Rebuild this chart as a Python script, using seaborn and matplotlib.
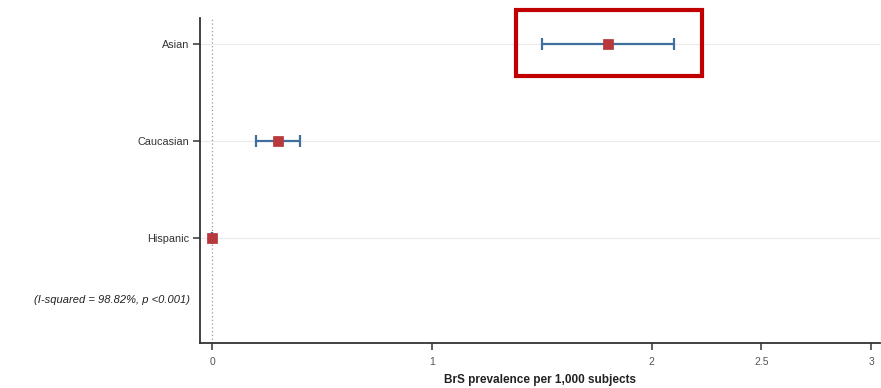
import matplotlib
matplotlib.use("Agg")
import matplotlib.pyplot as plt
import matplotlib.transforms as mtransforms
from matplotlib.patches import Rectangle
import seaborn as sns
import pandas as pd

# Pooled prevalence (per 1,000 subjects) with 95% CI by ethnicity
groups = ["Asian", "Caucasian", "Hispanic"]
prevalence = [1.80, 0.30, 0.00]
ci_low = [1.50, 0.20, 0.00]
ci_high = [2.10, 0.40, 0.00]
xticks = [0, 1, 2, 2.5, 3]
xtick_labels = ["0", "1", "2", "2.5", "3"]
heterogeneity = "(I-squared = 98.82%, p <0.001)"

df = pd.DataFrame({"group": groups, "pos": range(len(groups)),
                   "prev": prevalence, "lo": ci_low, "hi": ci_high})

sns.set_theme(style="white")
plt.rcParams["font.family"] = ["Liberation Sans", "DejaVu Sans"]

fig = plt.figure(figsize=(8.81, 3.88), dpi=100)
ax = fig.add_axes([0.227, 0.116, 0.772, 0.838])

# faint row guides and the null line at zero
for p in df["pos"]:
    ax.axhline(p, color="#ebebeb", lw=0.8, zorder=0)
ax.axvline(0, color="#9a9a9a", lw=0.9, ls=(0, (1, 2)), zorder=1)

# confidence intervals
ax.errorbar(df["prev"], df["pos"],
            xerr=[df["prev"] - df["lo"], df["hi"] - df["prev"]],
            fmt="none", ecolor="#3f6f9c", elinewidth=1.6, capsize=4,
            capthick=1.6, zorder=2)
# point estimates
sns.scatterplot(data=df, x="prev", y="pos", marker="s", s=45,
                color="#b7393d", edgecolor="#b7393d", ax=ax, zorder=3,
                legend=False)

ax.set_xlim(-0.055, 3.04)
ax.set_ylim(3.09, -0.27)
ax.set_yticks(df["pos"])
ax.set_yticklabels(groups, fontsize=7.8, color="#333333")
ax.set_xticks(xticks)
ax.set_xticklabels(xtick_labels, fontsize=7.5, color="#555555")
ax.tick_params(axis="both", which="both", length=5, width=1.1,
               color="#333333", left=True, bottom=True)
ax.tick_params(axis="x", pad=5)
ax.tick_params(axis="y", pad=3)
ax.set_ylabel("")
ax.set_xlabel("BrS prevalence per 1,000 subjects", fontsize=8.5,
              fontweight="bold", color="#222222", labelpad=5)

for side in ["top", "right"]:
    ax.spines[side].set_visible(False)
for side in ["left", "bottom"]:
    ax.spines[side].set_color("#333333")
    ax.spines[side].set_linewidth(1.3)

# heterogeneity statistic to the left of the axis
trans = mtransforms.blended_transform_factory(ax.transAxes, ax.transData)
ax.text(-0.015, 2.65, heterogeneity, transform=trans, ha="right",
        va="center", fontsize=8, style="italic", color="#222222")

# highlight box around the Asian estimate
ax.add_patch(Rectangle((1.384, -0.35), 0.844, 0.68, fill=False,
                       edgecolor="#c00000", lw=3, clip_on=False, zorder=4))

fig.savefig("out.png", dpi=100)
